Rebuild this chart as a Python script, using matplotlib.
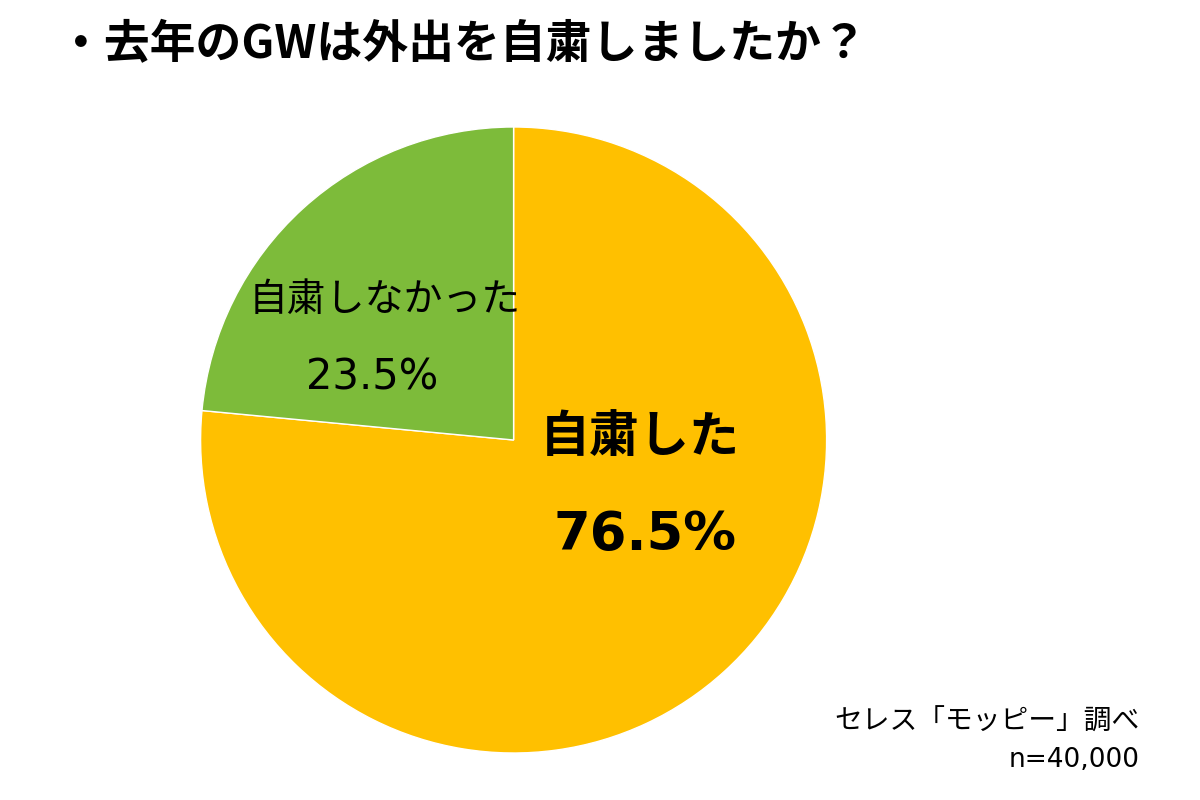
import matplotlib.pyplot as plt

plt.rcParams['font.family'] = ['Noto Sans CJK JP', 'DejaVu Sans']

labels = ['自粛した', '自粛しなかった']
values = [76.5, 23.5]
colors = ['#FFC000', '#7DBB3A']

fig = plt.figure(figsize=(12, 8), dpi=100)
ax = fig.add_axes([0.428 - 0.261, 0.45 - 0.39125, 0.522, 0.7825])
ax.pie(values, colors=colors, startangle=90, counterclock=False,
       wedgeprops=dict(edgecolor='white', linewidth=1))
ax.set_xlim(-1, 1)
ax.set_ylim(-1, 1)
ax.set_aspect('equal')

fig.text(0.048, 0.943, '・去年のGWは外出を自粛しましたか？', fontsize=33,
         fontweight='bold', va='center')

fig.text(640 / 1200, 1 - 437 / 800, labels[0], fontsize=36, fontweight='bold',
         ha='center', va='center')
fig.text(645 / 1200, 1 - 535 / 800, f'{values[0]}%', fontsize=38, fontweight='bold',
         family='DejaVu Sans', ha='center', va='center')
fig.text(385 / 1200, 1 - 300 / 800, labels[1], fontsize=28,
         ha='center', va='center')
fig.text(372 / 1200, 1 - 378 / 800, f'{values[1]}%', fontsize=30,
         family='DejaVu Sans', ha='center', va='center')

fig.text(1140 / 1200, 1 - 722 / 800, 'セレス「モッピー」調べ', fontsize=20,
         ha='right', va='center')
fig.text(1140 / 1200, 1 - 760 / 800, 'n=40,000', fontsize=19,
         family='DejaVu Sans', ha='right', va='center')

fig.savefig('out.png')
